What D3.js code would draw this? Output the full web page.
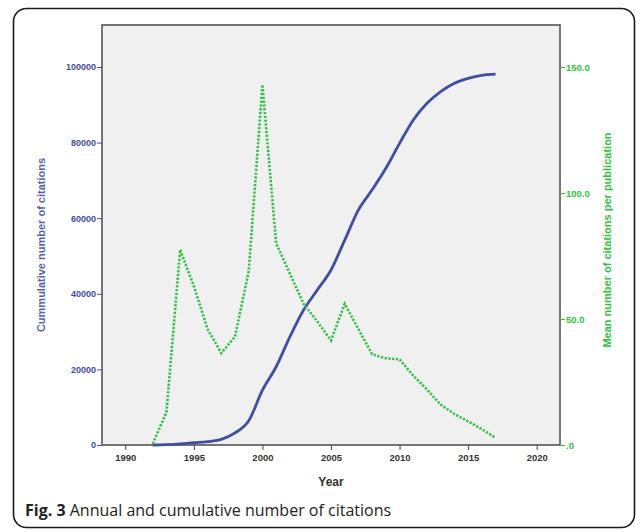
<!DOCTYPE html>
<html>
<head>
<meta charset="utf-8">
<script src="https://cdn.jsdelivr.net/npm/d3@7"></script>
<style>
  body { margin: 0; background: #fff; }
  svg text { font-family: "Liberation Sans", Arial, sans-serif; }
</style>
</head>
<body>
<div id="main"></div>
<script>
// data
var years = [1992, 1993, 1994, 1995, 1996, 1997, 1998, 1999, 2000, 2001, 2002, 2003, 2004,
             2005, 2006, 2007, 2008, 2009, 2010, 2011, 2012, 2013, 2014, 2015, 2016, 2017];
var cumulative = [0, 100, 300, 600, 900, 1500, 3200, 6400, 14500, 20700, 28600, 35700, 41000,
                  46300, 54200, 62200, 67500, 73200, 79800, 86000, 90400, 93500, 95700, 97000, 97800, 98100];
var meanPerPub = [0.5, 13, 77.5, 63, 46, 36.5, 43, 69, 143, 80, 68, 56, 49,
                  41.5, 56, 46, 36, 34.4, 34, 27.5, 22, 16, 12.3, 9.4, 6.3, 2.8];
var xTicks = [1990, 1995, 2000, 2005, 2010, 2015, 2020];
var leftTicks = [0, 20000, 40000, 60000, 80000, 100000];
var rightTicks = [0, 50, 100, 150];

var W = 636, H = 532;
var plot = {left: 102, right: 560, top: 25, bottom: 445};

var svg = d3.select("#main").append("svg")
    .attr("width", W)
    .attr("height", H);

// outer figure frame
svg.append("rect")
    .attr("x", 13.5).attr("y", 8.5)
    .attr("width", 621).attr("height", 519)
    .attr("rx", 13).attr("ry", 13)
    .attr("fill", "#fff")
    .attr("stroke", "#1a1a1a")
    .attr("stroke-width", 1.6);

// scales
var x = d3.scaleLinear().domain([1988.3, 2021.7]).range([plot.left, plot.right]);
var yL = d3.scaleLinear().domain([0, 111111]).range([plot.bottom, plot.top]);
var yR = d3.scaleLinear().domain([0, 166.67]).range([plot.bottom, plot.top]);

// plot background
svg.append("rect")
    .attr("x", plot.left).attr("y", plot.top)
    .attr("width", plot.right - plot.left).attr("height", plot.bottom - plot.top)
    .attr("fill", "#f0f0f0")
    .attr("stroke", "#555")
    .attr("stroke-width", 1.6);

var blue = "#3e4ea3", green = "#2fc243";

// axes
var gx = svg.append("g")
    .attr("transform", "translate(0," + plot.bottom + ")")
    .call(d3.axisBottom(x).tickValues(xTicks).tickFormat(d3.format("d")).tickSize(5).tickPadding(4));
gx.selectAll("text").attr("fill", "#333").style("font-size", "9.5px").style("font-weight", "bold");
gx.selectAll("line").attr("stroke", "#444");

var gl = svg.append("g")
    .attr("transform", "translate(" + plot.left + ",0)")
    .call(d3.axisLeft(yL).tickValues(leftTicks).tickFormat(d3.format("d")).tickSize(5).tickPadding(1));
gl.selectAll("text").attr("fill", blue).style("font-size", "9px").style("font-weight", "bold");
gl.selectAll("line").attr("stroke", blue);

var gr = svg.append("g")
    .attr("transform", "translate(" + plot.right + ",0)")
    .call(d3.axisRight(yR).tickValues(rightTicks)
        .tickFormat(function(d) { return d === 0 ? ".0" : d3.format(".1f")(d); })
        .tickSize(5).tickPadding(1));
gr.selectAll("text").attr("fill", green).style("font-size", "9.5px").style("font-weight", "bold");
gr.selectAll("line").attr("stroke", green);
gx.select(".domain").remove();
gl.select(".domain").remove();
gr.select(".domain").remove();

// lines
var lineL = d3.line()
    .x(function(d, i) { return x(years[i]); })
    .y(function(d) { return yL(d); })
    .curve(d3.curveMonotoneX);
var lineR = d3.line()
    .x(function(d, i) { return x(years[i]); })
    .y(function(d) { return yR(d); });

svg.append("path")
    .datum(cumulative)
    .attr("d", lineL)
    .attr("fill", "none")
    .attr("stroke", blue)
    .attr("stroke-width", 2.8);

svg.append("path")
    .datum(meanPerPub)
    .attr("d", lineR)
    .attr("fill", "none")
    .attr("stroke", green)
    .attr("stroke-width", 2.6)
    .attr("stroke-dasharray", "2.2,1.6");

// axis titles
svg.append("text")
    .attr("x", (plot.left + plot.right) / 2).attr("y", 486)
    .attr("text-anchor", "middle")
    .style("font-size", "12px").style("font-weight", "bold")
    .attr("fill", "#333")
    .text("Year");

svg.append("text")
    .attr("transform", "translate(45,245) rotate(-90)")
    .attr("text-anchor", "middle")
    .style("font-size", "11px").style("font-weight", "bold")
    .attr("fill", "#5563ad")
    .text("Cummulative number of citations");

svg.append("text")
    .attr("transform", "translate(611,240) rotate(-90)")
    .attr("text-anchor", "middle")
    .style("font-size", "11px").style("font-weight", "bold")
    .attr("fill", green)
    .text("Mean number of citations per publication");

// caption
var cap = svg.append("text")
    .attr("x", 25).attr("y", 516)
    .style("font-family", "'Open Sans', sans-serif")
    .style("font-size", "16px")
    .attr("fill", "#222");
cap.append("tspan").style("font-weight", "bold").text("Fig. 3");
cap.append("tspan").text(" Annual and cumulative number of citations");
</script>
</body>
</html>
